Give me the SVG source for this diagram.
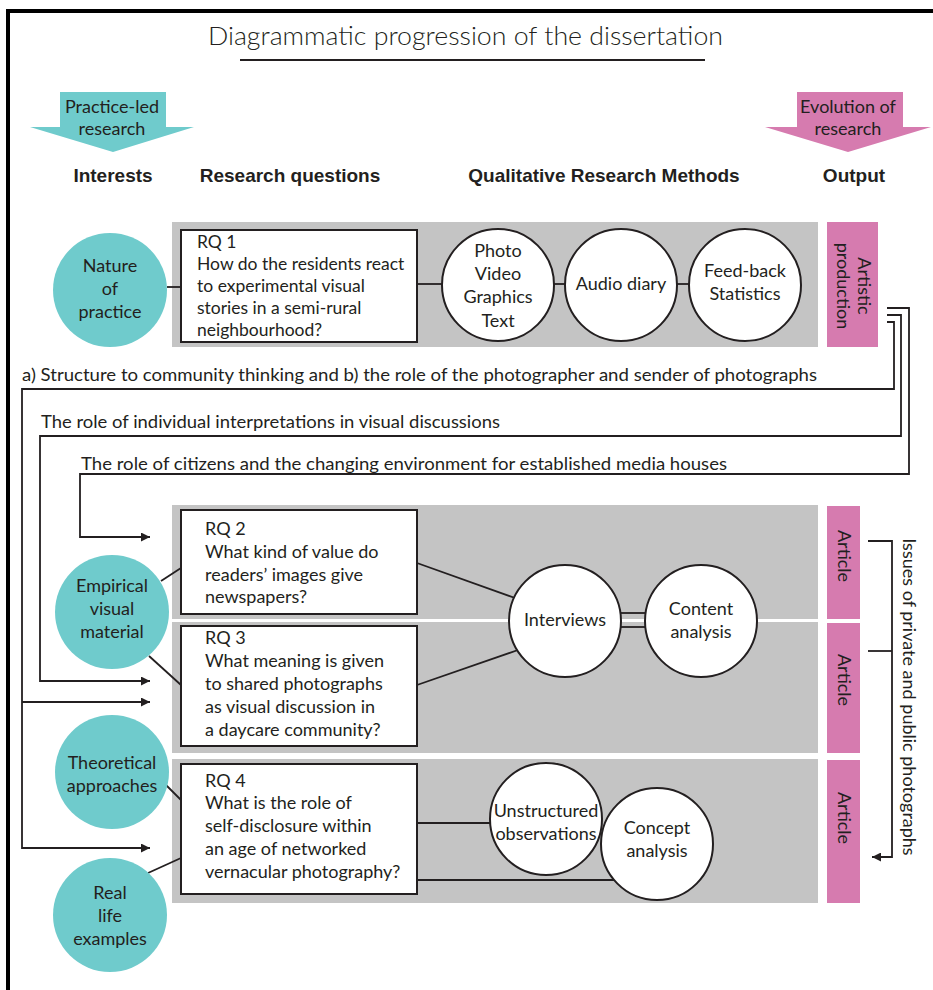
<svg xmlns="http://www.w3.org/2000/svg" width="933" height="990" viewBox="0 0 933 990">
<defs>
<marker id="ah" viewBox="0 0 10 10" refX="10" refY="5" markerWidth="9" markerHeight="9" markerUnits="userSpaceOnUse" orient="auto">
<path d="M0,0 L10,5 L0,10 z" fill="#231F20"/>
</marker>
</defs>
<style>
text{font-family:Lato,"Open Sans","Liberation Sans",sans-serif;fill:#231F20}
.t{font-size:18px}
.t2{font-size:17.5px}
.c{text-anchor:middle}
.h{font-family:"Liberation Sans",Arial,sans-serif;font-weight:bold;font-size:19px;text-anchor:middle}
.teal{fill:#6FCBCC}
.pink{fill:#D67BAF}
.gray{fill:#C4C4C4}
.box{fill:#fff;stroke:#231F20;stroke-width:2}
.wc{fill:#fff;stroke:#231F20;stroke-width:2}
.ln{fill:none;stroke:#231F20;stroke-width:1.8}
.arr{fill:none;stroke:#231F20;stroke-width:1.8;marker-end:url(#ah)}
</style>

<!-- frame -->
<g id="frame">
<line x1="6" y1="11" x2="933" y2="11" stroke="#000" stroke-width="4"/>
<line x1="8" y1="9" x2="8" y2="990" stroke="#000" stroke-width="4"/>
</g>

<!-- title -->
<g id="title">
<text x="208" y="45" font-size="26" font-weight="300" fill="#333" textLength="515" lengthAdjust="spacingAndGlyphs">Diagrammatic progression of the dissertation</text>
<line x1="240" y1="60" x2="705" y2="60" stroke="#231F20" stroke-width="1.8"/>
</g>

<!-- big arrows -->
<g id="practice-led">
<path class="teal" d="M60,92 H166 V127 H194 L113,152 L30,127 H60 Z"/>
<text class="t c" x="112" y="113">Practice-led</text>
<text class="t c" x="112" y="135">research</text>
</g>
<g id="evolution">
<path class="pink" d="M797,92 H903 V127 H931 L848,152 L765,127 H797 Z"/>
<text class="t c" x="848" y="113">Evolution of</text>
<text class="t c" x="848" y="135">research</text>
</g>

<!-- headers -->
<g id="headers">
<text class="h" x="113" y="182">Interests</text>
<text class="h" x="290" y="182">Research questions</text>
<text class="h" x="604" y="182">Qualitative Research Methods</text>
<text class="h" x="854" y="182">Output</text>
</g>

<!-- panels -->
<g id="panels">
<rect class="gray" x="172" y="222" width="646" height="125"/>
<rect class="gray" x="172" y="505" width="646" height="114"/>
<rect class="gray" x="172" y="622" width="646" height="131"/>
<rect class="gray" x="172" y="759" width="646" height="144"/>
</g>

<!-- connector labels -->
<g id="labels" class="t">
<text x="22" y="381" textLength="795" lengthAdjust="spacingAndGlyphs">a) Structure to community thinking and b) the role of the photographer and sender of photographs</text>
<text x="41" y="428" textLength="459" lengthAdjust="spacingAndGlyphs">The role of individual interpretations in visual discussions</text>
<text x="81" y="470" textLength="646" lengthAdjust="spacingAndGlyphs">The role of citizens and the changing environment for established media houses</text>
</g>

<!-- connectors -->
<g id="connectors">
<path class="arr" d="M887,322 H894 V389 H22 V848 H150"/>
<path class="arr" d="M22,702 H150"/>
<path class="arr" d="M887,315 H901 V436 H40 V681 H150"/>
<path class="arr" d="M887,308 H909 V474 H80 V537 H150"/>
<path class="arr" d="M868,541 H892 V857 H872"/>
<path class="ln" d="M868,651 H892"/>
<line class="ln" x1="167" y1="287" x2="181" y2="287"/>
<line class="ln" x1="161" y1="581" x2="181" y2="568"/>
<line class="ln" x1="149" y1="656" x2="181" y2="685"/>
<line class="ln" x1="166" y1="785" x2="181" y2="800"/>
<line class="ln" x1="148" y1="873" x2="181" y2="858"/>
<line class="ln" x1="417" y1="284" x2="443" y2="284"/>
<line class="ln" x1="554" y1="284" x2="566" y2="284"/>
<line class="ln" x1="677" y1="284" x2="689" y2="284"/>
<line class="ln" x1="417" y1="563" x2="515" y2="598"/>
<line class="ln" x1="417" y1="685" x2="518" y2="650"/>
<line class="ln" x1="620" y1="613" x2="646" y2="613"/>
<line class="ln" x1="620" y1="627" x2="646" y2="627"/>
<line class="ln" x1="417" y1="823" x2="491" y2="823"/>
<line class="ln" x1="417" y1="880" x2="615" y2="880"/>
</g>

<!-- interests -->
<g id="nature-of-practice">
<circle class="teal" cx="110" cy="290" r="57"/>
<text class="t c" x="110" y="272">Nature</text>
<text class="t c" x="110" y="295">of</text>
<text class="t c" x="110" y="318">practice</text>
</g>
<g id="empirical-visual-material">
<circle class="teal" cx="112" cy="612" r="57"/>
<text class="t c" x="112" y="592">Empirical</text>
<text class="t c" x="112" y="615">visual</text>
<text class="t c" x="112" y="638">material</text>
</g>
<g id="theoretical-approaches">
<circle class="teal" cx="112" cy="772" r="57"/>
<text class="t c" x="112" y="769">Theoretical</text>
<text class="t c" x="112" y="792">approaches</text>
</g>
<g id="real-life-examples">
<circle class="teal" cx="110" cy="915" r="57"/>
<text class="t c" x="110" y="899">Real</text>
<text class="t c" x="110" y="922">life</text>
<text class="t c" x="110" y="945">examples</text>
</g>

<!-- research questions -->
<g id="rq1">
<rect class="box" x="181" y="230" width="236" height="112"/>
<text class="t2" x="197" y="248">RQ 1</text>
<text class="t2" x="197" y="270">How do the residents react</text>
<text class="t2" x="197" y="292">to experimental visual</text>
<text class="t2" x="197" y="314">stories in a semi-rural</text>
<text class="t2" x="197" y="336">neighbourhood?</text>
</g>
<g id="rq2">
<rect class="box" x="181" y="510" width="236" height="104"/>
<text class="t" x="205" y="535">RQ 2</text>
<text class="t" x="205" y="558">What kind of value do</text>
<text class="t" x="205" y="581">readers’ images give</text>
<text class="t" x="205" y="603">newspapers?</text>
</g>
<g id="rq3">
<rect class="box" x="181" y="626" width="236" height="120"/>
<text class="t" x="205" y="644">RQ 3</text>
<text class="t" x="205" y="667">What meaning is given</text>
<text class="t" x="205" y="690">to shared photographs</text>
<text class="t" x="205" y="713">as visual discussion in</text>
<text class="t" x="205" y="736">a daycare community?</text>
</g>
<g id="rq4">
<rect class="box" x="181" y="764" width="236" height="130"/>
<text class="t" x="205" y="787">RQ 4</text>
<text class="t" x="205" y="809">What is the role of</text>
<text class="t" x="205" y="832">self-disclosure within</text>
<text class="t" x="205" y="855">an age of networked</text>
<text class="t" x="205" y="878">vernacular photography?</text>
</g>

<!-- methods -->
<g id="photo-video">
<circle class="wc" cx="498" cy="285" r="56"/>
<text class="t c" x="498" y="257">Photo</text>
<text class="t c" x="498" y="280">Video</text>
<text class="t c" x="498" y="303">Graphics</text>
<text class="t c" x="498" y="327">Text</text>
</g>
<g id="audio-diary">
<circle class="wc" cx="621" cy="285" r="56"/>
<text class="t c" x="621" y="290">Audio diary</text>
</g>
<g id="feed-back">
<circle class="wc" cx="745" cy="285" r="56"/>
<text class="t c" x="745" y="277">Feed-back</text>
<text class="t c" x="745" y="300">Statistics</text>
</g>
<g id="interviews">
<circle class="wc" cx="565" cy="621" r="56"/>
<text class="t c" x="565" y="626">Interviews</text>
</g>
<g id="content-analysis">
<circle class="wc" cx="701" cy="621" r="56"/>
<text class="t c" x="701" y="615">Content</text>
<text class="t c" x="701" y="638">analysis</text>
</g>
<g id="unstructured-observations">
<circle class="wc" cx="546" cy="819" r="56"/>
<text class="t c" x="546" y="817">Unstructured</text>
<text class="t c" x="546" y="840">observations</text>
</g>
<g id="concept-analysis">
<circle class="wc" cx="657" cy="844" r="56"/>
<text class="t c" x="657" y="834">Concept</text>
<text class="t c" x="657" y="857">analysis</text>
</g>

<!-- outputs -->
<g id="artistic-production">
<rect class="pink" x="827" y="222" width="51" height="125"/>
<text class="t c" transform="translate(858,286) rotate(90)">Artistic</text>
<text class="t c" transform="translate(837,286) rotate(90)">production</text>
</g>
<g id="article-1">
<rect class="pink" x="827" y="506" width="33" height="113"/>
<text class="t c" transform="translate(838,556) rotate(90)">Article</text>
</g>
<g id="article-2">
<rect class="pink" x="827" y="623" width="33" height="130"/>
<text class="t c" transform="translate(838,680) rotate(90)">Article</text>
</g>
<g id="article-3">
<rect class="pink" x="827" y="760" width="33" height="143"/>
<text class="t c" transform="translate(838,818) rotate(90)">Article</text>
</g>
<g id="issues">
<text class="t c" transform="translate(903,697) rotate(90)">Issues of private and public photographs</text>
</g>
</svg>
